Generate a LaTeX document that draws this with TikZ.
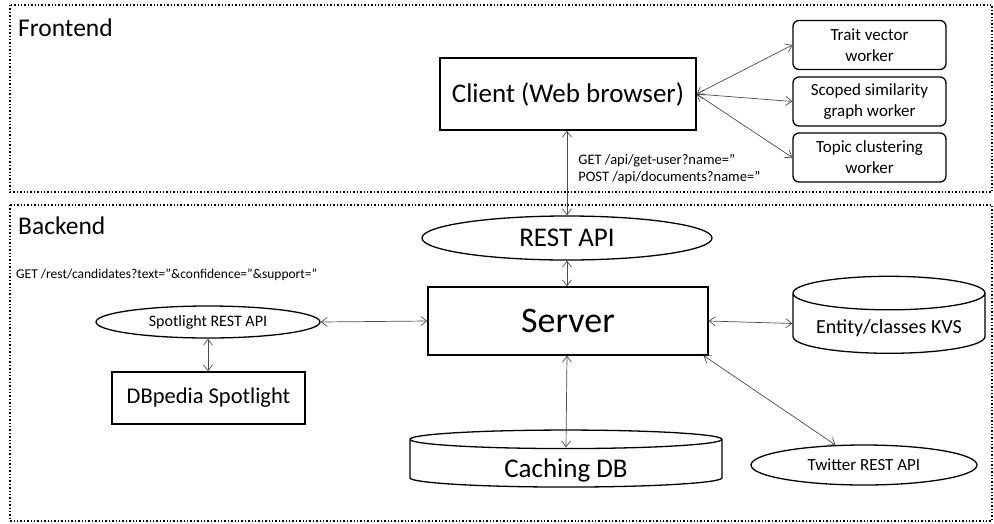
\documentclass[tikz,border=0pt]{standalone}
\usepackage{fontspec}
\setmainfont{Carlito}
\usetikzlibrary{arrows.meta,shapes.geometric,calc}

\begin{document}
\begin{tikzpicture}[
  x=1pt, y=-1pt,
  box/.style={draw, line width=1.3pt, align=center, inner sep=2pt},
  worker/.style={draw, line width=1.3pt, rounded corners=6pt, minimum width=153pt, minimum height=49pt, align=center, inner sep=2pt, font=\fontsize{17}{21}\selectfont},
  oval/.style={draw, ellipse, line width=1.3pt, inner sep=0pt},
  db/.style={draw, cylinder, shape border rotate=90, line width=1.3pt, inner sep=0pt},
  area/.style={draw, dotted, line width=1.4pt},
  link/.style={{Straight Barb[length=6pt,width=9pt]}-{Straight Barb[length=6pt,width=9pt]}, black!70, line width=0.7pt},
  note/.style={anchor=west, align=left, inner sep=0pt, text=black, font=\fontsize{#1}{17}\selectfont},
  note/.default=14.5,
  title/.style={anchor=west, inner sep=0pt, font=\fontsize{25.5}{25.5}\selectfont},
]
\useasboundingbox (0,0) rectangle (994,523);

% the two layers
\draw[area] (10,5) rectangle (992,192);
\draw[area] (10,205) rectangle (992,521);
\node[title] (fe) at (18,28) {Frontend};
\node[title] (be) at (18,226) {Backend};

% frontend
\node[box, minimum width=256pt, minimum height=72pt, font=\fontsize{27}{27}\selectfont] (client) at (568,94) {Client (Web browser)};
\node[worker] (w1) at (869.5,45) {Trait vector\\worker};
\node[worker] (w2) at (869.5,101.5) {Scoped similarity\\graph worker};
\node[worker] (w3) at (869.5,157.5) {Topic clustering\\worker};
\foreach \n in {w1,w2,w3} \draw[link] (client.east) -- (\n.west);

% backend
\node[oval, minimum width=290pt, minimum height=44pt, font=\fontsize{27}{27}\selectfont] (rest) at (567,238) {REST API};
\node[box, minimum width=280pt, minimum height=68pt, font=\fontsize{36}{36}\selectfont] (server) at (568,321) {Server};
\node[oval, minimum width=224pt, minimum height=32pt, font=\fontsize{16}{16}\selectfont] (spot) at (208,322) {Spotlight REST API};
\node[box, minimum width=193pt, minimum height=52pt, font=\fontsize{22.5}{22.5}\selectfont] (dbp) at (208.5,398) {DBpedia Spotlight};
\node[db, aspect=0.23, minimum width=192pt, minimum height=77pt, font=\fontsize{20}{20}\selectfont] (kvs) at (889,323.5) {\raisebox{-5pt}[\height][\depth]{Entity/classes KVS}};
\node[db, aspect=0.15, minimum width=312pt, minimum height=57pt, font=\fontsize{27}{27}\selectfont] (cache) at (566,463.5) {\raisebox{-7pt}[\height][\depth]{Caching DB}};
\node[oval, minimum width=226pt, minimum height=40pt, font=\fontsize{17}{17}\selectfont] (tw) at (864,465) {Twitter REST API};

\draw[link] (client.south -| rest.north) -- node[note, pos=0.45, right=11pt] {GET /api/get-user?name=''\\POST /api/documents?name=''} (rest.north);
\draw[link] (rest.south) -- (rest.south |- server.north);
\draw[link] (spot.east) -- (server.west);
\draw[link] (spot.south) -- (spot.south |- dbp.north);
\draw[link] (server.east) -- (kvs.west);
\draw[link] (rest.south |- server.south) -- ($(cache.north)+(0,18)$);
\draw[link] ($(server.south east)+(-5,0)$) -- (tw.145);
\node[note=13.5] (spotq) at (16,275) {GET /rest/candidates?text=''\&confidence=''\&support=''};
\end{tikzpicture}
\end{document}
